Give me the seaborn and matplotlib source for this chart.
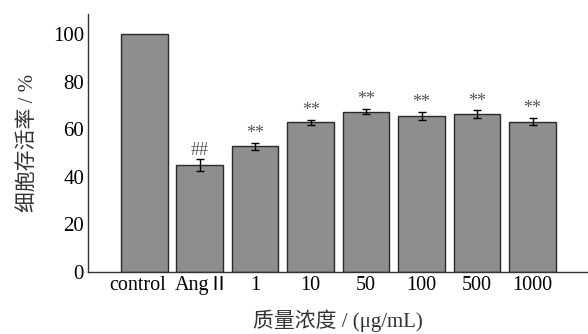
import matplotlib
matplotlib.use("Agg")
import matplotlib.pyplot as plt
import matplotlib.transforms as mtransforms
import seaborn as sns
import pandas as pd

categories = ["control", "AngⅡ", "1", "10", "50", "100", "500", "1000"]
values = [100, 45.0, 52.8, 62.9, 67.4, 65.7, 66.4, 63.2]
errors = [0, 2.4, 1.4, 1.1, 1.1, 1.6, 1.6, 1.6]
marks = ["", "##", "**", "**", "**", "**", "**", "**"]
yticks = [0, 20, 40, 60, 80, 100]

sns.set_theme(style="ticks")
plt.rcParams['font.family'] = ['Liberation Serif', 'Noto Sans CJK SC', 'DejaVu Sans']

df = pd.DataFrame({"cat": categories, "val": values})

fig = plt.figure(figsize=(5.88, 3.34), dpi=100)
ax = fig.add_axes([0.15, 0.186, 0.85, 0.772])
sns.barplot(data=df, x="cat", y="val", color="#8e8e8e", saturation=1,
            edgecolor="#2a2a2a", linewidth=1.0, width=0.84, ax=ax)
xs = list(range(len(categories)))
ax.errorbar(xs[1:], values[1:], yerr=errors[1:], fmt="none", ecolor="black",
            elinewidth=1.0, capsize=3, capthick=1.0)
for x, v, e, m in zip(xs, values, errors, marks):
    if m:
        ax.text(x, v + e + 0.3, m, ha="center", va="bottom", fontsize=13,
                color="#555555")

ax.set_xlim(-1.01, 8.0)
ax.set_ylim(0, 108.5)
ax.set_yticks(yticks)
ax.tick_params(axis="y", length=0, labelsize=15, colors="black", pad=3)
ax.tick_params(axis="x", length=0, labelsize=14.5, colors="black", pad=3)
fig.canvas.draw()
lbl = ax.get_xticklabels()
lbl[0].set_transform(lbl[0].get_transform() +
                     mtransforms.ScaledTranslation(-0.07, 0, fig.dpi_scale_trans))
lbl[1].set_transform(lbl[1].get_transform() +
                     mtransforms.ScaledTranslation(0.02, 0, fig.dpi_scale_trans))
sns.despine(ax=ax)
for s in ["left", "bottom"]:
    ax.spines[s].set_color("#333333")
    ax.spines[s].set_linewidth(1.0)
ax.set_ylabel("细胞存活率 / %", fontsize=15, color="#333333", labelpad=11)
ax.set_xlabel("质量浓度 / (μg/mL)", fontsize=15, color="#333333", labelpad=10)
fig.savefig("out.png", dpi=100, facecolor="white")
